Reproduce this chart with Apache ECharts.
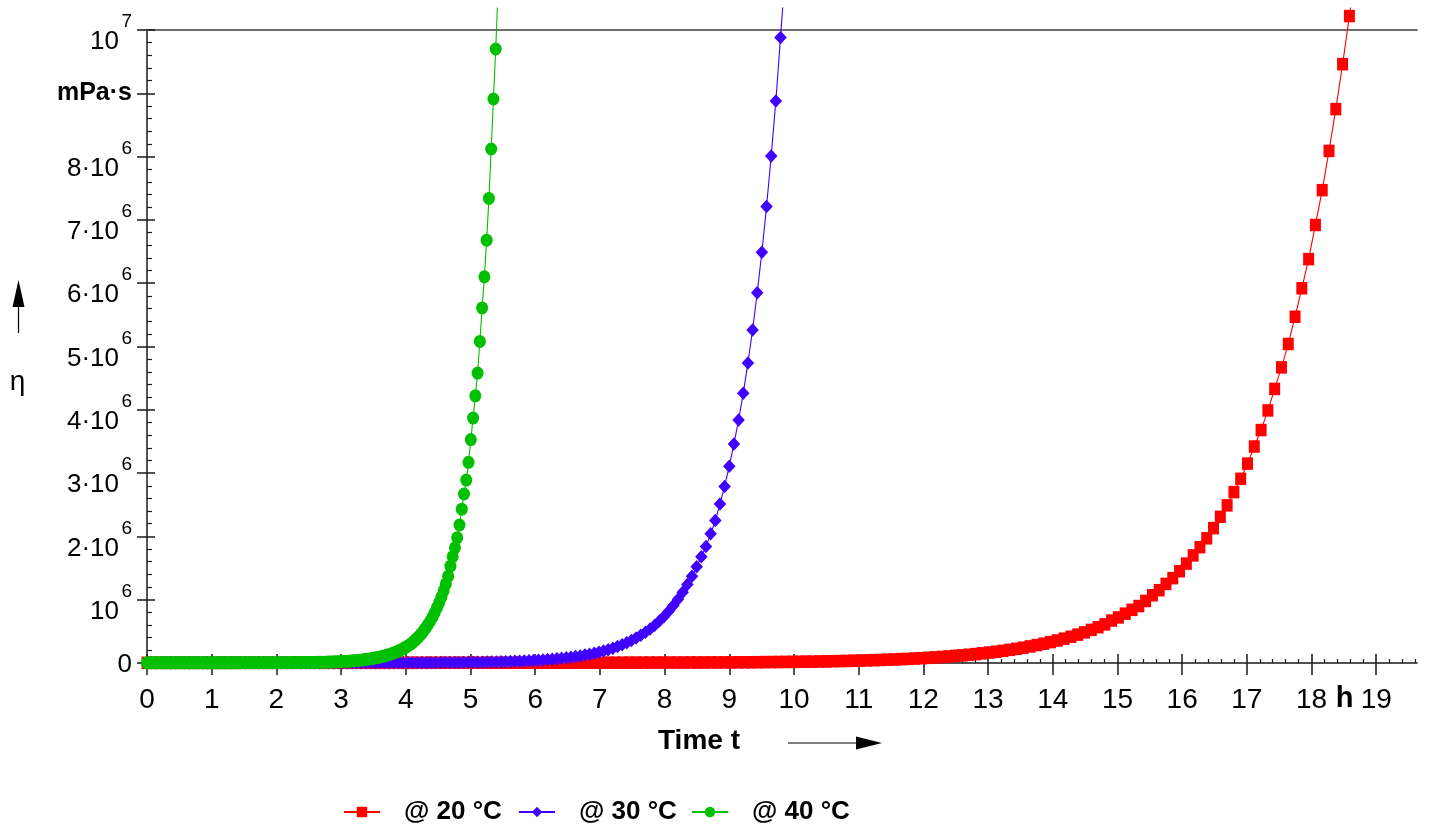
<!DOCTYPE html>
<html>
<head>
<meta charset="utf-8">
<script src="https://cdn.jsdelivr.net/npm/echarts@6/dist/echarts.min.js"></script>
<style>html,body{margin:0;padding:0;background:#fff}#c{width:1429px;height:832px}</style>
</head>
<body>
<div id="c"></div>
<script>
// ---------------- data (η in units of 10^6 mPa·s, time in h) ----------------
const SERIES_NAMES = ['@ 20 °C', '@ 30 °C', '@ 40 °C'];
const X_TICKS = [0,1,2,3,4,5,6,7,8,9,10,11,12,13,14,15,16,17,18,19];
const Y_TICKS = [0,1,2,3,4,5,6,7,8,9,10];
const Y_TICK_BASE = ['0','10','2·10','3·10','4·10','5·10','6·10','7·10','8·10','mPa·s','10'];
const Y_TICK_EXP  = ['','6','6','6','6','6','6','6','6','','7'];

const T_20 = [
0,0.105,0.21,0.315,0.42,0.525,0.63,0.735,0.84,0.945,
1.05,1.155,1.26,1.365,1.47,1.575,1.68,1.785,1.89,1.995,
2.1,2.205,2.31,2.415,2.52,2.625,2.73,2.835,2.94,3.045,
3.15,3.255,3.36,3.465,3.57,3.675,3.78,3.885,3.99,4.095,
4.2,4.305,4.41,4.515,4.62,4.725,4.83,4.935,5.04,5.145,
5.25,5.355,5.46,5.565,5.67,5.775,5.88,5.985,6.09,6.195,
6.3,6.405,6.51,6.615,6.72,6.825,6.93,7.035,7.14,7.245,
7.35,7.455,7.56,7.665,7.77,7.875,7.98,8.085,8.19,8.295,
8.4,8.505,8.61,8.715,8.82,8.925,9.03,9.135,9.24,9.345,
9.45,9.555,9.66,9.765,9.87,9.975,10.08,10.185,10.29,10.395,
10.5,10.605,10.71,10.815,10.92,11.025,11.13,11.235,11.34,11.445,
11.55,11.655,11.76,11.865,11.97,12.075,12.18,12.285,12.39,12.495,
12.6,12.705,12.81,12.915,13.02,13.125,13.23,13.335,13.44,13.545,
13.65,13.755,13.86,13.965,14.07,14.175,14.28,14.385,14.49,14.595,
14.7,14.805,14.91,15.015,15.12,15.225,15.33,15.435,15.54,15.645,
15.75,15.855,15.96,16.065,16.17,16.275,16.38,16.485,16.59,16.695,
16.8,16.905,17.01,17.115,17.22,17.325,17.43,17.535,17.64,17.745,
17.85,17.955,18.06,18.165,18.27,18.375,18.48,18.585,18.69];
const ETA_20 = [
0.003,0.003,0.003,0.003,0.003,0.003,0.003,0.003,0.003,0.003,
0.003,0.003,0.003,0.003,0.003,0.003,0.003,0.003,0.003,0.003,
0.003,0.003,0.003,0.003,0.003,0.003,0.003,0.003,0.003,0.003,
0.003,0.003,0.003,0.003,0.003,0.003,0.003,0.003,0.003,0.003,
0.004,0.004,0.004,0.004,0.004,0.004,0.004,0.004,0.004,0.004,
0.004,0.004,0.004,0.004,0.004,0.004,0.004,0.004,0.004,0.004,
0.004,0.004,0.004,0.004,0.004,0.004,0.004,0.004,0.004,0.004,
0.005,0.005,0.005,0.006,0.006,0.006,0.006,0.007,0.007,0.007,
0.008,0.008,0.008,0.009,0.009,0.010,0.010,0.011,0.011,0.012,
0.013,0.014,0.015,0.016,0.017,0.018,0.019,0.021,0.022,0.024,
0.026,0.028,0.030,0.033,0.035,0.038,0.041,0.045,0.048,0.052,
0.056,0.061,0.065,0.071,0.076,0.082,0.089,0.096,0.104,0.112,
0.121,0.131,0.141,0.153,0.165,0.178,0.192,0.208,0.224,0.242,
0.262,0.283,0.305,0.330,0.356,0.384,0.415,0.448,0.484,0.523,
0.565,0.61,0.67,0.72,0.78,0.84,0.90,0.98,1.07,1.15,
1.25,1.34,1.45,1.57,1.70,1.83,1.97,2.13,2.31,2.49,
2.70,2.91,3.15,3.42,3.68,3.99,4.33,4.67,5.04,5.47,
5.92,6.38,6.92,7.47,8.09,8.75,9.46,10.22,11.05];

const T_30 = [
0,0.072,0.144,0.216,0.288,0.36,0.432,0.504,0.576,0.648,
0.72,0.792,0.864,0.936,1.008,1.08,1.152,1.224,1.296,1.368,
1.44,1.512,1.584,1.656,1.728,1.8,1.872,1.944,2.016,2.088,
2.16,2.232,2.304,2.376,2.448,2.52,2.592,2.664,2.736,2.808,
2.88,2.952,3.024,3.096,3.168,3.24,3.312,3.384,3.456,3.528,
3.6,3.672,3.744,3.816,3.888,3.96,4.032,4.104,4.176,4.248,
4.32,4.392,4.464,4.536,4.608,4.68,4.752,4.824,4.896,4.968,
5.04,5.112,5.184,5.256,5.328,5.4,5.472,5.544,5.616,5.688,
5.76,5.832,5.904,5.976,6.048,6.12,6.192,6.264,6.336,6.408,
6.48,6.552,6.624,6.696,6.768,6.84,6.912,6.984,7.056,7.128,
7.2,7.272,7.344,7.416,7.488,7.56,7.632,7.704,7.776,7.848,
7.92,7.992,8.064,8.136,8.208,8.28,8.352,8.424,8.496,8.568,
8.64,8.712,8.784,8.856,8.928,9.0,9.072,9.144,9.216,9.288,
9.36,9.432,9.504,9.576,9.648,9.72,9.792,9.864];
const ETA_30 = [
0.002,0.002,0.002,0.002,0.002,0.002,0.002,0.002,0.002,0.002,
0.002,0.002,0.002,0.002,0.002,0.002,0.002,0.002,0.002,0.002,
0.002,0.002,0.002,0.002,0.002,0.002,0.002,0.002,0.002,0.002,
0.003,0.003,0.003,0.003,0.003,0.003,0.003,0.003,0.003,0.003,
0.003,0.003,0.003,0.003,0.003,0.003,0.003,0.003,0.003,0.003,
0.003,0.003,0.003,0.003,0.003,0.003,0.004,0.004,0.004,0.004,
0.005,0.005,0.005,0.006,0.006,0.007,0.007,0.008,0.009,0.010,
0.011,0.012,0.013,0.014,0.016,0.017,0.019,0.021,0.024,0.026,
0.029,0.032,0.036,0.040,0.044,0.049,0.054,0.060,0.067,0.074,
0.082,0.091,0.101,0.112,0.125,0.138,0.154,0.171,0.189,0.210,
0.233,0.259,0.288,0.319,0.354,0.393,0.437,0.485,0.538,0.597,
0.663,0.736,0.817,0.907,1.006,1.117,1.24,1.37,1.52,1.68,
1.84,2.04,2.25,2.51,2.79,3.11,3.46,3.84,4.26,4.74,
5.26,5.85,6.49,7.21,8.01,8.88,9.88,10.9];

const T_40 = [
0,0.035,0.07,0.105,0.14,0.175,0.21,0.245,0.28,0.315,
0.35,0.385,0.42,0.455,0.49,0.525,0.56,0.595,0.63,0.665,
0.7,0.735,0.77,0.805,0.84,0.875,0.91,0.945,0.98,1.015,
1.05,1.085,1.12,1.155,1.19,1.225,1.26,1.295,1.33,1.365,
1.4,1.435,1.47,1.505,1.54,1.575,1.61,1.645,1.68,1.715,
1.75,1.785,1.82,1.855,1.89,1.925,1.96,1.995,2.03,2.065,
2.1,2.135,2.17,2.205,2.24,2.275,2.31,2.345,2.38,2.415,
2.45,2.485,2.52,2.555,2.59,2.625,2.66,2.695,2.73,2.765,
2.8,2.835,2.87,2.905,2.94,2.975,3.01,3.045,3.08,3.115,
3.15,3.185,3.22,3.255,3.29,3.325,3.36,3.395,3.43,3.465,
3.5,3.535,3.57,3.605,3.64,3.675,3.71,3.745,3.78,3.815,
3.85,3.885,3.92,3.955,3.99,4.025,4.06,4.095,4.13,4.165,
4.2,4.235,4.27,4.305,4.34,4.375,4.41,4.445,4.48,4.515,
4.55,4.585,4.62,4.655,4.69,4.725,4.76,4.795,4.83,4.865,
4.9,4.935,4.97,5.005,5.04,5.075,5.11,5.145,5.18,5.215,
5.25,5.285,5.32,5.355,5.39,5.425];
const ETA_40 = [
0.002,0.002,0.002,0.002,0.002,0.002,0.002,0.002,0.002,0.002,
0.002,0.002,0.002,0.002,0.002,0.002,0.002,0.002,0.002,0.002,
0.003,0.003,0.003,0.003,0.003,0.003,0.003,0.003,0.003,0.003,
0.003,0.003,0.003,0.003,0.003,0.003,0.003,0.003,0.003,0.003,
0.004,0.004,0.004,0.004,0.004,0.004,0.004,0.004,0.004,0.004,
0.004,0.004,0.004,0.004,0.004,0.004,0.005,0.005,0.005,0.005,
0.005,0.005,0.005,0.005,0.006,0.006,0.006,0.006,0.007,0.007,
0.007,0.008,0.008,0.009,0.009,0.010,0.010,0.011,0.012,0.013,
0.014,0.015,0.016,0.018,0.019,0.021,0.023,0.025,0.027,0.029,
0.032,0.035,0.038,0.041,0.045,0.049,0.053,0.058,0.063,0.069,
0.075,0.081,0.088,0.096,0.104,0.113,0.123,0.134,0.146,0.159,
0.173,0.188,0.205,0.223,0.243,0.265,0.29,0.315,0.345,0.38,
0.415,0.455,0.50,0.55,0.60,0.66,0.72,0.79,0.87,0.95,
1.04,1.14,1.25,1.37,1.53,1.68,1.82,1.98,2.18,2.43,
2.67,2.89,3.17,3.53,3.87,4.22,4.58,5.08,5.61,6.10,
6.68,7.34,8.12,8.91,9.70,10.6];

// ---------------- layout / style ----------------
const FONT = "'Liberation Sans',Arial,sans-serif";
const COLORS = ['#ff0000', '#4000ff', '#00c000'];
const SYMBOLS = ['rect', 'diamond', 'circle'];
const SYMBOL_SIZES = [[11, 12.5], [12.5, 13.5], [12, 13]];
const GRID_LEFT = 147, GRID_RIGHT = 12, GRID_BOTTOM = 169, AXIS_TOP = 30, PLOT_TOP = 8;
const X_MAX = 19.63;
const Y_MAX = 10;
const AXIS_BOTTOM_Y = 832 - GRID_BOTTOM;
const Y1_MAX = Y_MAX * (AXIS_BOTTOM_Y - PLOT_TOP) / (AXIS_BOTTOM_Y - AXIS_TOP);
const AX = '#1a1a1a';

const chart = echarts.init(document.getElementById('c'), null, { renderer: 'canvas' });

function yLabel(v) {
  const i = Math.round(v);
  const b = Y_TICK_BASE[i], e = Y_TICK_EXP[i];
  if (b === undefined || Math.abs(v - i) > 1e-6) return '';
  if (b === 'mPa·s') return '{u|' + b + '}';
  if (!e) return '{z|' + b + '}';
  return '{e|' + e + '}\n{b|' + b + '}';
}

const series = [[T_20, ETA_20], [T_30, ETA_30], [T_40, ETA_40]].map((d, k) => ({
  type: 'line',
  name: SERIES_NAMES[k],
  xAxisIndex: 2,
  yAxisIndex: 1,
  data: d[0].map((t, i) => [t, d[1][i]]),
  symbol: SYMBOLS[k],
  symbolSize: SYMBOL_SIZES[k],
  showSymbol: true,
  clip: true,
  z: 2 + k,
  itemStyle: { color: COLORS[k] },
  lineStyle: { color: COLORS[k], width: 1.1 },
  emphasis: { disabled: true },
  animation: false
}));

const LEGEND_LEFT = [343, 518, 691];

const option = {
  animation: false,
  backgroundColor: '#ffffff',
  grid: [
    { left: GRID_LEFT, right: GRID_RIGHT, top: AXIS_TOP, bottom: GRID_BOTTOM, containLabel: false, outerBoundsMode: 'none' },
    { left: GRID_LEFT, right: GRID_RIGHT, top: PLOT_TOP, bottom: GRID_BOTTOM, containLabel: false, outerBoundsMode: 'none' }
  ],
  xAxis: [
    {
      gridIndex: 0, type: 'value', min: 0, max: X_MAX, interval: 1, position: 'bottom',
      axisLine: { show: true, onZero: false, lineStyle: { color: AX, width: 1.5 } },
      axisTick: { show: true, inside: true, length: 9, customValues: X_TICKS, lineStyle: { color: AX, width: 1.5 } },
      minorTick: { show: true, splitNumber: 5, length: 4, lineStyle: { color: AX, width: 1.2 } },
      axisLabel: { show: true, customValues: X_TICKS, margin: 23, fontSize: 28, fontFamily: FONT, color: '#000' },
      splitLine: { show: false }, minorSplitLine: { show: false }
    },
    {
      gridIndex: 0, type: 'value', min: 0, max: X_MAX, position: 'top',
      axisLine: { show: true, onZero: false, lineStyle: { color: '#6e6e6e', width: 1.8 } },
      axisTick: { show: false }, axisLabel: { show: false }, splitLine: { show: false }
    },
    {
      gridIndex: 1, type: 'value', min: 0, max: X_MAX, interval: 1, position: 'bottom',
      axisLine: { show: false, onZero: false },
      axisTick: { show: true, inside: false, length: 12, customValues: X_TICKS, lineStyle: { color: AX, width: 1.5 } },
      axisLabel: { show: false, customValues: X_TICKS }, splitLine: { show: false }
    }
  ],
  yAxis: [
    {
      gridIndex: 0, type: 'value', min: 0, max: Y_MAX, interval: 1, position: 'left',
      axisLine: { show: true, onZero: false, lineStyle: { color: AX, width: 1.5 } },
      axisTick: { show: true, inside: true, length: 8, lineStyle: { color: AX, width: 1.5 } },
      minorTick: { show: true, splitNumber: 5, length: 5, lineStyle: { color: AX, width: 1.2 } },
      axisLabel: {
        show: true, margin: 15, formatter: yLabel, color: '#000',
        rich: {
          b: { fontSize: 26, fontFamily: FONT, color: '#000', lineHeight: 16, padding: [0, 13, 0, 0] },
          e: { fontSize: 19, fontFamily: FONT, color: '#000', lineHeight: 24 },
          z: { fontSize: 26, fontFamily: FONT, color: '#000', lineHeight: 26, padding: [4, 0, 0, 0] },
          u: { fontSize: 25, fontFamily: FONT, fontWeight: 'bold', color: '#000', lineHeight: 26 }
        }
      },
      splitLine: { show: false }, minorSplitLine: { show: false }
    },
    {
      gridIndex: 1, type: 'value', min: 0, max: Y1_MAX, position: 'left',
      axisLine: { show: false, onZero: false },
      axisTick: { show: true, inside: false, length: 10, customValues: Y_TICKS, lineStyle: { color: AX, width: 1.5 } },
      axisLabel: { show: false, customValues: Y_TICKS }, splitLine: { show: false }
    }
  ],
  legend: SERIES_NAMES.map((n, k) => ({
    data: [n], left: LEGEND_LEFT[k], top: 799, padding: 0,
    itemWidth: 36, itemHeight: 13, selectedMode: false,
    textStyle: { fontSize: 26, fontWeight: 'bold', fontFamily: FONT, color: '#000', padding: [0, 0, 0, 19] }
  })),
  graphic: [
    { type: 'text', x: 17.5, y: 382, style: { text: 'η', fontSize: 28, fontFamily: FONT, fill: '#000', textAlign: 'center', textVerticalAlign: 'middle' } },
    { type: 'line', shape: { x1: 18.5, y1: 333, x2: 18.5, y2: 300 }, style: { stroke: '#000', lineWidth: 1.2 } },
    { type: 'polygon', shape: { points: [[18.5, 280], [12.5, 307], [24.5, 307]] }, style: { fill: '#000' } },
    { type: 'text', x: 658, y: 741, style: { text: 'Time t', fontSize: 28, fontWeight: 'bold', fontFamily: FONT, fill: '#000', textAlign: 'left', textVerticalAlign: 'middle' } },
    { type: 'line', shape: { x1: 788, y1: 743, x2: 860, y2: 743 }, style: { stroke: '#000', lineWidth: 1.2 } },
    { type: 'polygon', shape: { points: [[882, 743], [856, 736.5], [856, 749.5]] }, style: { fill: '#000' } },
    { type: 'text', x: 1344.7, y: 699, style: { text: 'h', fontSize: 29, fontWeight: 'bold', fontFamily: FONT, fill: '#000', textAlign: 'center', textVerticalAlign: 'middle' } }
  ],
  series: series
};

chart.setOption(option);
</script>
</body>
</html>
